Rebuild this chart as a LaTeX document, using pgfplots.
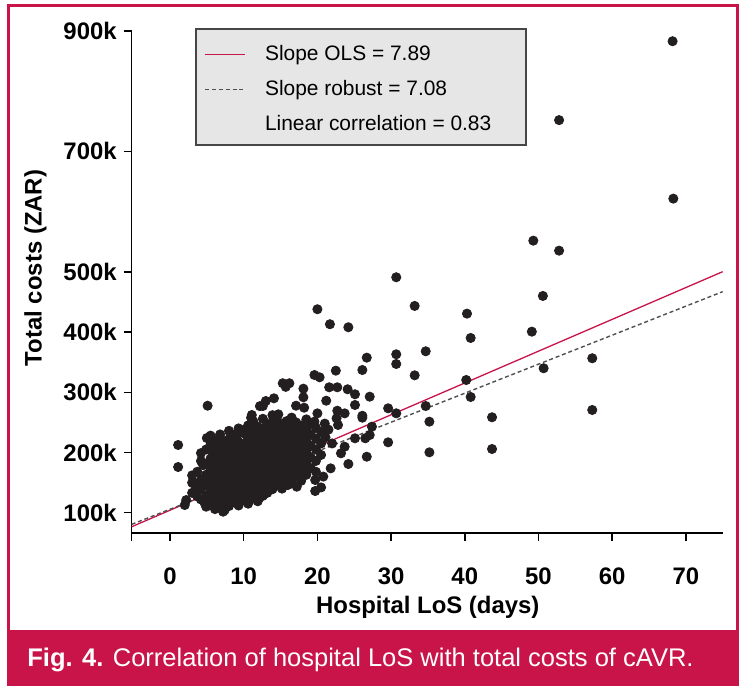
\documentclass[border=0pt]{standalone}
\usepackage{fontspec}
\setmainfont{Liberation Sans}
\usepackage{pgfplots}
\usepackage{pgfplotstable}
\pgfplotsset{compat=1.18}
\definecolor{crimson}{RGB}{200,20,72}
\definecolor{dotblack}{RGB}{35,31,32}
\definecolor{legfill}{RGB}{230,230,230}
\definecolor{legdraw}{RGB}{70,70,70}
\definecolor{robust}{RGB}{80,80,80}

% hospital LoS (days) vs total costs (thousand ZAR)
\pgfplotstableread{
x y
68.2 883
52.8 752
68.3 621.6
49.3 551.8
52.8 535.2
30.7 491
33.2 443.4
40.3 430.6
50.6 460
40.8 390.2
49.1 400.7
30.7 363.1
30.7 347
34.7 368.1
33.2 328.2
57.3 356.5
50.7 339.9
40.2 320.4
40.8 292.2
29.6 273.4
30.7 265.1
34.7 277.2
35.2 251.2
43.7 258.5
57.3 270.6
29.6 216.9
35.2 200.3
43.7 205.8
20.0 437.9
21.7 413
24.2 408
26.7 357.5
26.1 337
22.5 335.9
19.6 328.7
20.3 324.9
15.3 315
16.2 315
15.7 309
18.1 306
21.6 308.3
22.7 308.3
24.1 305
25.1 296.7
27.1 292.7
18.1 291.7
21.2 286
14.1 290
13.0 285.5
12.6 277.2
17.1 277.7
18.2 274.4
25.1 278.9
14.7 263.4
20.0 265
22.7 269.4
23.7 265
26.1 261
5.1 277.7
11.1 262.3
12.2 277
22.6 256.8
26.1 257.8
19.6 251.2
22.8 245.7
27.4 242.9
27.1 229
25.1 223.6
26.5 223.6
21.1 225.2
23.7 209.6
23.2 198.7
26.7 193
24.2 180.9
21.8 173.7
19.7 154.3
19.7 136
16.0 146
17.2 143.2
12.1 124
1.1 212.5
1.1 175.9
2.0 112.8
2.2 121
3.1 149
3.4 135
11.0 257.8
9.7 237.4
7.2 101.7
4.7 116
4.5 179
5.0 224
20.8 160
21.0 248
21.5 238
22.0 215
20.5 142
3.0 133
3.0 150
3.0 162
3.7 127
3.7 145
3.7 168
4.2 122
4.2 139
4.2 155
4.2 186
4.2 199
4.9 110
4.9 128
4.9 147
4.9 163
4.9 181
4.9 205
5.5 119
5.5 137
5.5 154
5.5 172
5.5 190
5.5 213
5.5 228
6.1 106
6.1 125
6.1 143
6.1 160
6.1 178
6.1 197
6.1 220
6.8 114
6.8 131
6.8 150
6.8 168
6.8 185
6.8 207
6.8 230
7.4 104
7.4 122
7.4 140
7.4 158
7.4 175
7.4 194
7.4 214
8.0 111
8.0 129
8.0 147
8.0 165
8.0 183
8.0 201
8.0 222
8.0 236
8.7 118
8.7 137
8.7 155
8.7 172
8.7 190
8.7 210
8.7 229
9.3 112
9.3 126
9.3 145
9.3 163
9.3 180
9.3 199
9.3 218
9.3 240
10.0 121
10.0 139
10.0 157
10.0 175
10.0 193
10.0 212
10.0 232
10.6 115
10.6 130
10.6 148
10.6 166
10.6 184
10.6 203
10.6 223
10.6 245
11.3 124
11.3 142
11.3 160
11.3 178
11.3 196
11.3 215
11.3 236
11.3 252
11.9 119
11.9 135
11.9 153
11.9 171
11.9 189
11.9 208
11.9 227
11.9 243
12.6 128
12.6 146
12.6 164
12.6 182
12.6 200
12.6 219
12.6 239
12.6 256
13.2 133
13.2 151
13.2 169
13.2 187
13.2 205
13.2 224
13.2 247
13.9 139
13.9 157
13.9 175
13.9 193
13.9 212
13.9 231
13.9 251
13.9 262
14.5 145
14.5 163
14.5 181
14.5 199
14.5 218
14.5 238
14.5 255
15.2 140
15.2 152
15.2 170
15.2 188
15.2 207
15.2 226
15.2 246
15.8 158
15.8 176
15.8 194
15.8 213
15.8 233
15.8 252
16.5 150
16.5 166
16.5 184
16.5 202
16.5 221
16.5 240
16.5 258
17.1 160
17.1 178
17.1 196
17.1 215
17.1 234
17.1 250
17.8 153
17.8 170
17.8 188
17.8 207
17.8 226
17.8 245
18.5 163
18.5 181
18.5 200
18.5 219
18.5 238
18.5 255
19.1 174
19.1 192
19.1 211
19.1 230
19.1 248
19.8 168
19.8 186
19.8 205
19.8 223
19.8 241
20.5 196
20.5 215
20.5 234
5.8 128
5.8 146
5.8 163
5.8 181
5.8 200
6.5 116
6.5 134
6.5 152
6.5 169
6.5 188
6.5 208
7.1 110
7.1 127
7.1 145
7.1 162
7.1 180
7.1 200
7.1 220
7.7 116
7.7 131
7.7 149
7.7 167
7.7 185
7.7 204
8.4 121
8.4 138
8.4 156
8.4 174
8.4 193
8.4 212
9.0 117
9.0 134
9.0 152
9.0 170
9.0 188
9.0 206
9.0 226
9.6 129
9.6 147
9.6 165
9.6 184
9.6 203
10.3 124
10.3 141
10.3 160
10.3 178
10.3 197
10.3 216
10.3 236
10.9 134
10.9 153
10.9 172
10.9 190
10.9 210
10.9 229
11.6 130
11.6 148
11.6 166
11.6 185
11.6 204
11.6 222
12.2 138
12.2 156
12.2 174
12.2 193
12.2 212
12.2 232
12.9 137
12.9 155
12.9 173
12.9 191
12.9 210
12.9 229
13.5 144
13.5 162
13.5 181
13.5 199
13.5 218
13.5 237
14.2 152
14.2 170
14.2 189
14.2 208
14.2 227
14.2 246
14.8 154
14.8 173
14.8 191
14.8 210
14.8 229
15.5 165
15.5 183
15.5 201
15.5 220
15.5 240
16.2 158
16.2 175
16.2 193
16.2 212
16.2 230
16.2 246
16.8 170
16.8 188
16.8 206
16.8 225
16.8 243
17.5 165
17.5 183
17.5 201
17.5 220
17.5 238
18.1 176
18.1 194
18.1 212
18.1 230
}\costs

\begin{document}
\begin{tikzpicture}
\useasboundingbox (0,0) rectangle (376bp,-346.5bp);
\fill[white] (0,0) rectangle (376bp,-346.5bp);
\fill[crimson] (3.5bp,-314.75bp) rectangle (369.5bp,-342.75bp);
\draw[crimson, line width=1.5bp] (4.25bp,-2.75bp) rectangle (368.75bp,-342bp);
\node[anchor=base west, text=white, inner sep=0pt, font=\fontsize{12.8}{14}\selectfont]
  at (13.5bp,-333bp) {\textbf{Fig. 4.} Correlation of hospital LoS with total costs of cAVR.};

\begin{axis}[
  at={(65.85bp,-266.5bp)}, anchor=south west,
  scale only axis, width=295.5bp, height=251bp,
  xmin=-5.2, xmax=75, ymin=66.3, ymax=900,
  clip=false,
  axis lines=left,
  axis line style={-, line width=0.75bp},
  tick style={black, line width=0.75bp},
  tick align=outside, major tick length=4bp,
  xtick={-5.2,0,10,20,30,40,50,60,70},
  xticklabels={,0,10,20,30,40,50,60,70},
  ytick={100,200,300,400,500,700,900},
  yticklabels={100k,200k,300k,400k,500k,700k,900k},
  ticklabel style={font=\bfseries\fontsize{12}{14}\selectfont},
  xticklabel style={yshift=-10bp},
  /pgf/number format/assume math mode=true,
  xlabel={Hospital LoS (days)},
  ylabel={Total costs (ZAR)},
  label style={font=\bfseries\fontsize{12}{14}\selectfont},
  xlabel style={at={(axis description cs:0.501,-0.148)}, anchor=center},
  ylabel style={at={(axis description cs:-0.163,0.528)}, anchor=center},
  legend style={at={(axis description cs:0.1235,0.972)}, anchor=north west,
    draw=none, fill=none, inner sep=0pt, outer sep=0pt,
    font=\fontsize{10.5}{12}\selectfont, row sep=8.1bp, column sep=9.5bp,
    nodes={inner sep=0pt, text height=7.5bp, text depth=2bp}},
  legend cell align=left,
  legend image code/.code={\draw[#1] (0bp,0bp) -- (20bp,0bp);},
]
\draw[legdraw, fill=legfill, line width=0.6bp]
  (axis description cs:0.1088,1.004) rectangle (axis description cs:0.6672,0.773);
\addplot[only marks, mark=*, mark size=2.3bp, dotblack, forget plot] table {\costs};
\addplot[crimson, line width=0.65bp, forget plot] coordinates {(-5.2,76.7) (75,500.3)};
\addplot[robust, line width=0.7bp, dash pattern=on 2bp off 1.4bp, forget plot] coordinates {(-5.2,80.7) (75,467.1)};
\addlegendimage{crimson, line width=0.65bp}
\addlegendentry{Slope OLS = 7.89}
\addlegendimage{robust, line width=0.7bp, dash pattern=on 2bp off 1.4bp}
\addlegendentry{Slope robust = 7.08}
\addlegendimage{empty legend}
\addlegendentry{Linear correlation = 0.83}
\end{axis}
\end{tikzpicture}
\end{document}
